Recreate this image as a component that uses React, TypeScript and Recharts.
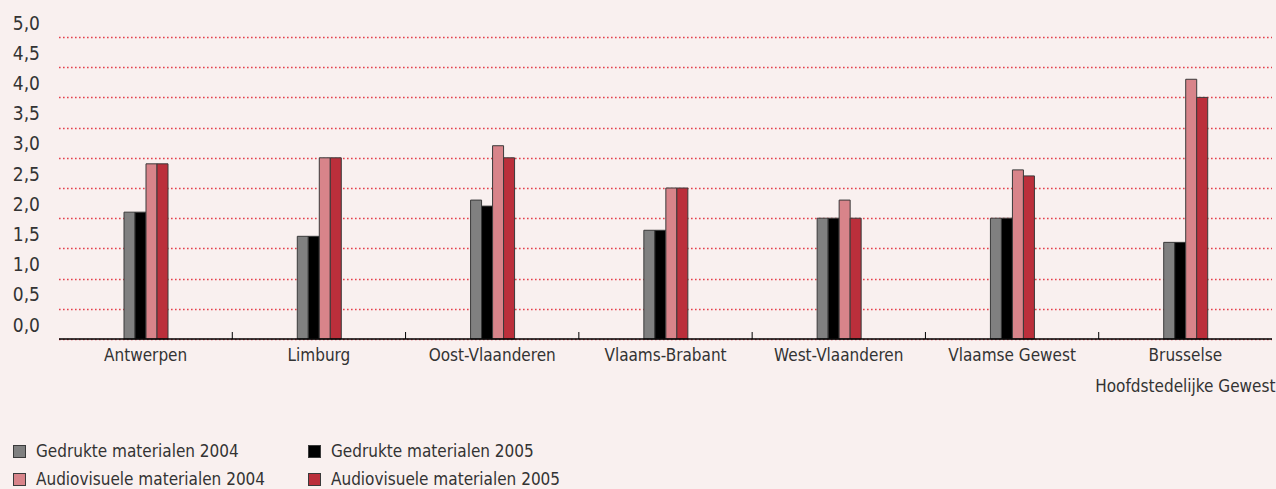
import React from 'react';
import { BarChart, Bar, XAxis, YAxis, CartesianGrid } from 'recharts';

const categories = [
  'Antwerpen',
  'Limburg',
  'Oost-Vlaanderen',
  'Vlaams-Brabant',
  'West-Vlaanderen',
  'Vlaamse Gewest',
  'Brusselse\nHoofdstedelijke Gewest',
];
const gedrukt2004 = [2.1, 1.7, 2.3, 1.8, 2.0, 2.0, 1.6];
const gedrukt2005 = [2.1, 1.7, 2.2, 1.8, 2.0, 2.0, 1.6];
const audio2004 = [2.9, 3.0, 3.2, 2.5, 2.3, 2.8, 4.3];
const audio2005 = [2.9, 3.0, 3.0, 2.5, 2.0, 2.7, 4.0];
const yTicks = [0, 0.5, 1, 1.5, 2, 2.5, 3, 3.5, 4, 4.5, 5];

const series = [
  { key: 'g2004', name: 'Gedrukte materialen 2004', color: '#808080', values: gedrukt2004 },
  { key: 'g2005', name: 'Gedrukte materialen 2005', color: '#000000', values: gedrukt2005 },
  { key: 'a2004', name: 'Audiovisuele materialen 2004', color: '#d8848a', values: audio2004 },
  { key: 'a2005', name: 'Audiovisuele materialen 2005', color: '#bb2f3b', values: audio2005 },
];

const data = categories.map((c, i) => {
  const row: any = { cat: c };
  series.forEach((s) => (row[s.key] = s.values[i]));
  return row;
});

const FONT = "'DejaVu Sans Condensed', 'DejaVu Sans', sans-serif";
const TEXT = '#333333';
const BG = '#f9f0ef';
const GRID = '#e4404c';

const YTick = (props: any) => {
  const { y, payload } = props;
  return (
    <text
      x={40}
      y={y - 14.5}
      textAnchor="end"
      dominantBaseline="central"
      fontFamily={FONT}
      fontSize={19}
      fill={TEXT}
    >
      {payload.value.toFixed(1).replace('.', ',')}
    </text>
  );
};

const XTick = (props: any) => {
  const { x, y, payload, index } = props;
  const lines = String(payload.value).split('\n');
  const off = payload.offset || 0;
  return (
    <g>
      {index > 0 && (
        <line x1={x - off} x2={x - off} y1={y - 7} y2={y} stroke="#000" strokeWidth={1} />
      )}
      {lines.map((l: string, i: number) => (
        <text
          key={i}
          x={x}
          y={y + 16 + i * 31}
          textAnchor="middle"
          dominantBaseline="central"
          fontFamily={FONT}
          fontSize={17}
          fill={TEXT}
        >
          {l}
        </text>
      ))}
    </g>
  );
};

const GridLine = (props: any) => {
  const { x1, x2, y1 } = props;
  const yy = Math.round(y1) + 0.5;
  return (
    <line
      x1={Math.round(x1)}
      x2={x2}
      y1={yy}
      y2={yy}
      style={{ stroke: GRID }}
      strokeWidth={1.6}
      strokeDasharray="1.6 2.4"
    />
  );
};

export default function App() {
  return (
    <div
      style={{
        position: 'absolute',
        left: 0,
        top: 0,
        width: 1276,
        height: 489,
        background: BG,
        overflow: 'hidden',
      }}
    >
      <BarChart
        width={1276}
        height={489}
        data={data}
        margin={{ top: 37, right: 4, left: 0, bottom: 0 }}
        barGap={0}
        barSize={11}
      >
        <CartesianGrid vertical={false} stroke={GRID} horizontal={<GridLine />} />
        <XAxis
          dataKey="cat"
          height={150}
          interval={0}
          tickLine={false}
          tickSize={0}
          tickMargin={0}
          axisLine={{ stroke: '#000', strokeWidth: 1.5 }}
          tick={<XTick />}
        />
        <YAxis
          width={59}
          domain={[0, 5]}
          ticks={yTicks}
          interval={0}
          axisLine={false}
          tickLine={false}
          tick={<YTick />}
        />
        {series.map((s) => (
          <Bar
            key={s.key}
            dataKey={s.key}
            name={s.name}
            fill={s.color}
            stroke="#3a3a3a"
            strokeWidth={1}
            isAnimationActive={false}
          />
        ))}
      </BarChart>
      <div style={{ position: 'absolute', left: 13, top: 440, fontFamily: FONT, fontSize: 17, color: TEXT }}>
        {series.map((s, i) => (
          <div
            key={s.key}
            style={{
              position: 'absolute',
              left: (i % 2) * 295,
              top: Math.floor(i / 2) * 28,
              whiteSpace: 'nowrap',
              display: 'flex',
              alignItems: 'center',
              height: 22,
            }}
          >
            <span
              style={{
                display: 'inline-block',
                width: 11,
                height: 11,
                background: s.color,
                border: '1px solid #3a3a3a',
                marginRight: 10,
              }}
            />
            <span>{s.name}</span>
          </div>
        ))}
      </div>
    </div>
  );
}
